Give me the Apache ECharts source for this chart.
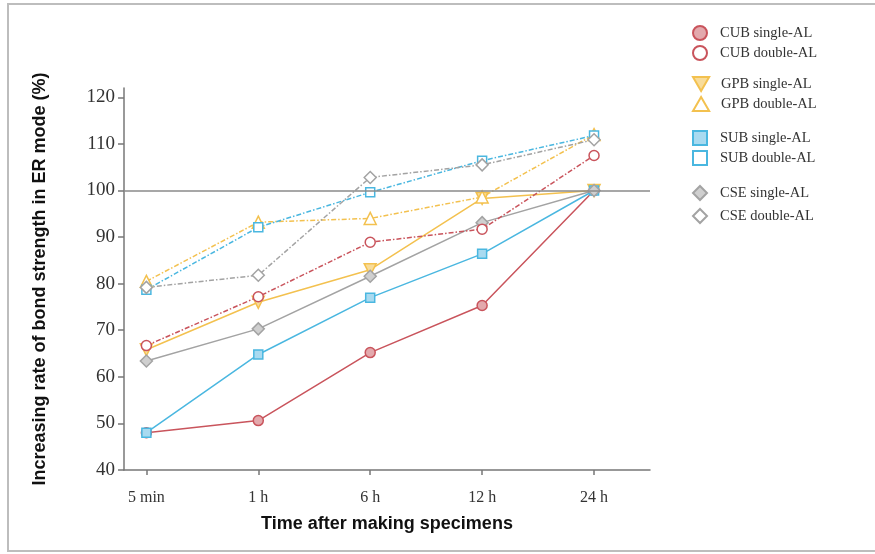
<!DOCTYPE html>
<html>
<head>
<meta charset="utf-8">
<script src="https://cdn.jsdelivr.net/npm/echarts@6/dist/echarts.min.js"></script>
<style>
  html, body { margin: 0; padding: 0; background: #fff; }
  #chart { width: 875px; height: 554px; }
</style>
</head>
<body>
<div id="chart"></div>
<script>
// time points
const categories = ['5 min', '1 h', '6 h', '12 h', '24 h']
const yTicks = [40, 50, 60, 70, 80, 90, 100, 110, 120]

// increasing rate (%)
const cubSingle = [48, 50.6, 65.2, 75.3, 100]
const cubDouble = [66.7, 77.2, 88.9, 91.7, 107.5]
const gpbSingle = [65.8, 76, 83, 98.3, 100]
const gpbDouble = [80.5, 93.2, 94, 98.6, 112]
const subSingle = [48, 64.8, 77, 86.4, 100]
const subDouble = [78.7, 92.1, 99.6, 106.4, 111.8]
const cseSingle = [63.4, 70.3, 81.6, 93.1, 100]
const cseDouble = [79.2, 81.8, 102.8, 105.5, 110.9]

const RED = '#c9545c'
const ORANGE = '#f3c14f'
const BLUE = '#4ab7e0'
const GRAY = '#a3a3a3'
const DOWN_TRI = 'path://M0,0L10,0L5,8.66Z'
const UP_TRI = 'path://M5,0L10,8.66L0,8.66Z'
const SQUARE = 'path://M0,0L10,0L10,10L0,10Z'
const DIAMOND = 'path://M5,0L10,5L5,10L0,5Z'
const DASH_DOT = [5, 2, 1.5, 2]

const serif = 'Liberation Serif'

function toPoints(values) {
  return values.map((v, i) => [i, v])
}

function makeSeries(name, values, color, fill, symbol, size, dashed) {
  return {
    name: name,
    type: 'line',
    data: toPoints(values),
    symbol: symbol,
    symbolSize: size,
    lineStyle: { color: color, width: 1.5, type: dashed ? DASH_DOT : 'solid' },
    itemStyle: { color: fill, borderColor: color, borderWidth: 1.5 },
    emphasis: { disabled: true },
    z: dashed ? 3 : 2
  }
}

const series = [
  makeSeries('CUB single-AL', cubSingle, RED, '#e3a9ad', 'circle', 10, false),
  makeSeries('CUB double-AL', cubDouble, RED, '#fff', 'circle', 10, true),
  makeSeries('GPB single-AL', gpbSingle, ORANGE, '#f8dc9a', DOWN_TRI, 12, false),
  makeSeries('GPB double-AL', gpbDouble, ORANGE, '#fff', UP_TRI, 12, true),
  makeSeries('SUB single-AL', subSingle, BLUE, '#a9daf0', SQUARE, 9, false),
  makeSeries('SUB double-AL', subDouble, BLUE, '#fff', SQUARE, 9, true),
  makeSeries('CSE single-AL', cseSingle, GRAY, '#cfcfcf', DIAMOND, 12, false),
  makeSeries('CSE double-AL', cseDouble, GRAY, '#fff', DIAMOND, 12, true)
]

// 100% reference line
series[0].markLine = {
  silent: true,
  symbol: 'none',
  label: { show: false },
  lineStyle: { color: '#8a8a8a', type: 'solid', width: 1.5 },
  data: [{ yAxis: 100 }]
}

// legend icons (no line through them)
const legendIcons = {
  'CUB single-AL': 'circle',
  'CUB double-AL': 'circle',
  'GPB single-AL': DOWN_TRI,
  'GPB double-AL': UP_TRI,
  'SUB single-AL': SQUARE,
  'SUB double-AL': SQUARE,
  'CSE single-AL': DIAMOND,
  'CSE double-AL': DIAMOND
}

function makeLegend(names, top, gap) {
  return {
    orient: 'vertical',
    left: 687,
    top: top,
    itemWidth: 30,
    itemHeight: 14,
    itemGap: gap,
    selectedMode: false,
    textStyle: { fontFamily: serif, fontSize: 14.5, color: '#333' },
    data: names.map(n => ({ name: n, icon: legendIcons[n] }))
  }
}

const chart = echarts.init(document.getElementById('chart'))

chart.setOption({
  animation: false,
  backgroundColor: '#fff',
  graphic: [
    {
      type: 'rect',
      shape: { x: 8, y: 4, width: 900, height: 547 },
      style: { fill: 'none', stroke: '#bdbdbd', lineWidth: 2 },
      silent: true
    }
  ],
  legend: [
    makeLegend(['CUB single-AL', 'CUB double-AL'], 20, 4),
    makeLegend(['GPB single-AL', 'GPB double-AL'], 71, 4),
    makeLegend(['SUB single-AL', 'SUB double-AL'], 125, 4),
    makeLegend(['CSE single-AL', 'CSE double-AL'], 180, 7)
  ],
  grid: {
    left: 124,
    right: 225,
    top: 88,
    bottom: 84
  },
  xAxis: {
    type: 'value',
    min: -0.2,
    max: 4.5,
    name: 'Time after making specimens',
    nameLocation: 'middle',
    nameGap: 45,
    nameTextStyle: { fontFamily: 'Liberation Sans', fontWeight: 'bold', fontSize: 18, color: '#111' },
    splitLine: { show: false },
    axisLine: { onZero: false, lineStyle: { color: '#777', width: 1.5 } },
    axisTick: { customValues: [0, 1, 2, 3, 4], length: 5, lineStyle: { color: '#777', width: 1.5 } },
    axisLabel: {
      customValues: [0, 1, 2, 3, 4],
      formatter: v => categories[v],
      fontFamily: serif,
      fontSize: 16,
      color: '#333',
      margin: 20
    }
  },
  yAxis: {
    type: 'value',
    min: 40,
    max: 122,
    name: 'Increasing rate of bond strength in ER mode (%)',
    nameLocation: 'middle',
    nameGap: 75,
    nameTextStyle: { fontFamily: 'Liberation Sans', fontWeight: 'bold', fontSize: 18, color: '#111' },
    splitLine: { show: false },
    axisLine: { show: true, onZero: false, lineStyle: { color: '#777', width: 1.5 } },
    axisTick: { show: true, customValues: yTicks, length: 6, lineStyle: { color: '#777', width: 1.5 } },
    axisLabel: {
      customValues: yTicks,
      fontFamily: serif,
      fontSize: 19,
      color: '#333',
      margin: 9
    }
  },
  series: series
})
</script>
</body>
</html>
